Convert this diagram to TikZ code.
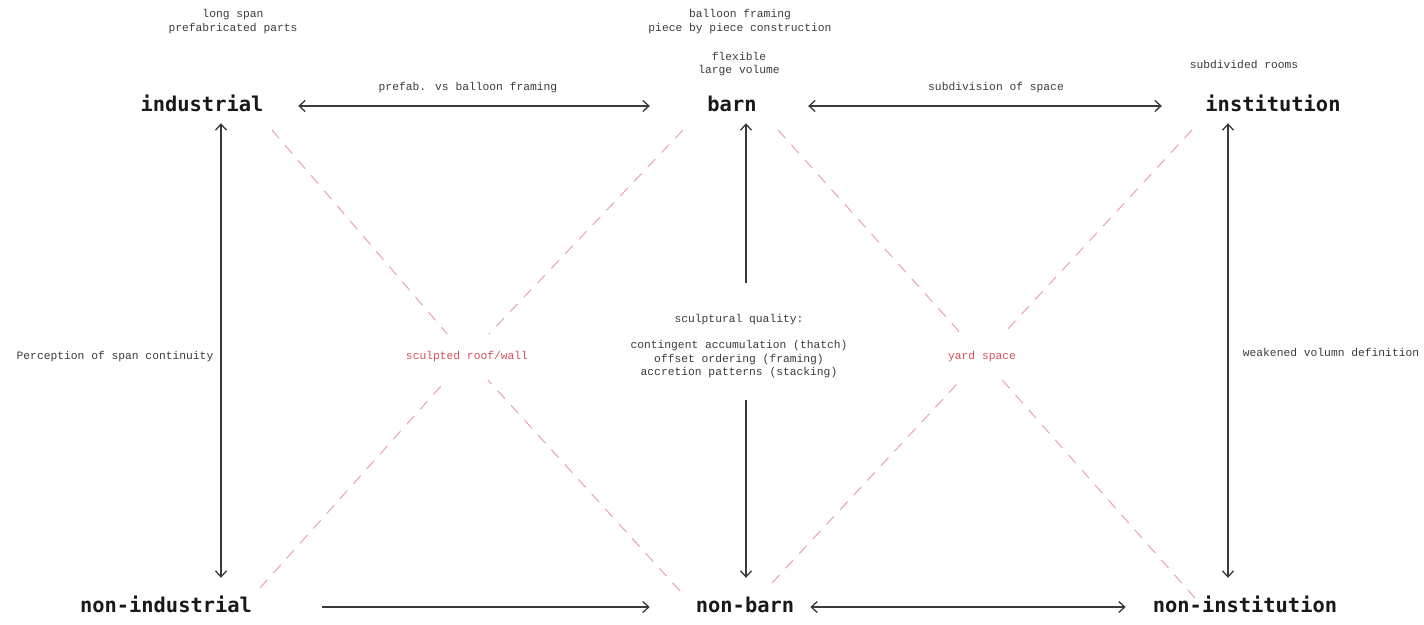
\documentclass[tikz,border=0pt]{standalone}
\usepackage{fontspec}
\setmainfont{Liberation Mono}
\newfontfamily\headfont{DejaVu Sans Mono}
\usetikzlibrary{arrows.meta}
\definecolor{linegray}{HTML}{3A3A3A}
\definecolor{txtgray}{HTML}{3C3C3C}
\definecolor{dashred}{HTML}{EAA3AA}
\definecolor{labred}{HTML}{D4505C}
\tikzset{
  head/.style={font=\headfont\bfseries\fontsize{20.4}{24}\selectfont, text=black!90, inner sep=0pt, text height=15pt, text depth=4pt},
  small/.style={font=\fontsize{11.3}{13.5}\selectfont, text=txtgray, align=center, inner sep=0pt},
  redlab/.style={font=\fontsize{11.3}{13.5}\selectfont, text=labred, inner sep=0pt, minimum height=46pt},
  tip/.style={-{Straight Barb[length=6pt,width=11pt]}, draw=linegray, line width=1.3pt},
  dbl/.style={{Straight Barb[length=6pt,width=11pt]}-{Straight Barb[length=6pt,width=11pt]}, draw=linegray, line width=1.3pt},
  rdash/.style={draw=dashred, line width=1pt, dash pattern=on 11pt off 9pt},
}
\begin{document}
\begin{tikzpicture}[x=1pt,y=-1pt]
\useasboundingbox[fill=white] (0,0) rectangle (1424,624);

% main nodes
\node[head] (industrial) at (202,106) {industrial};
\node[head] (barn) at (732,106) {barn};
\node[head] (institution) at (1273,106) {institution};
\node[head] (nonindustrial) at (166,607) {non-industrial};
\node[head] (nonbarn) at (745,607) {non-barn};
\node[head] (noninstitution) at (1245,607) {non-institution};

% annotations
\node[small] (longspan) at (233,21.5) {long span\\prefabricated parts};
\node[small] (balloon) at (740,21.5) {balloon framing\\piece by piece construction};
\node[small] (flexible) at (739,64) {flexible\\large volume};
\node[small] (subrooms) at (1244,64) {subdivided rooms};
\node[small] (prefab) at (468,88) {prefab. vs balloon framing};
\node[small] (subdiv) at (996,88) {subdivision of space};
\node[small] (perception) at (115,357) {Perception of span continuity};
\node[small] (weakened) at (1331,352) {weakened volumn definition};
\node[small, anchor=north] (quality) at (739,314) {sculptural quality:\\[13pt]contingent accumulation (thatch)\\offset ordering (framing)\\accretion patterns (stacking)};
\node[redlab] (sculpted) at (467,357) {sculpted roof/wall};
\node[redlab] (yard) at (982,357) {yard space};

% free ends of the split central arrow
\coordinate (ctop) at (746,283);
\coordinate (cbot) at (746,400);

% corner ends of the dashed lines
\coordinate (d1) at (272,130);
\coordinate (d2) at (683,130);
\coordinate (d3) at (260,588);
\coordinate (d4) at (680,591);
\coordinate (e1) at (778,130);
\coordinate (e2) at (1192,130);
\coordinate (e3) at (772,583);
\coordinate (e4) at (1195,598);

% dashed red diagonals
\draw[rdash] (d1) -- (sculpted);
\draw[rdash] (d2) -- (sculpted);
\draw[rdash] (d3) -- (sculpted);
\draw[rdash] (d4) -- (sculpted);
\draw[rdash] (e1) -- (yard);
\draw[rdash] (e2) -- (yard);
\draw[rdash] (e3) -- (yard);
\draw[rdash] (e4) -- (yard);

% horizontal arrows
\draw[dbl] ([xshift=34.6pt]industrial.east) -- ([xshift=-57.4pt]barn.west);
\draw[dbl] ([xshift=51.4pt]barn.east) -- ([xshift=-43.4pt]institution.west);
\draw[tip] ([xshift=70pt]nonindustrial.east) -- ([xshift=-46pt]nonbarn.west);
\draw[dbl] ([xshift=16pt]nonbarn.east) -- ([xshift=-27pt]noninstitution.west);

% vertical arrows
\draw[dbl] ([xshift=19pt,yshift=-7.5pt]industrial.south) -- ([xshift=55pt,yshift=19.5pt]nonindustrial.north);
\draw[tip] (ctop) -- ([xshift=14pt,yshift=-7.5pt]barn.south);
\draw[tip] (cbot) -- ([xshift=1pt,yshift=19.5pt]nonbarn.north);
\draw[dbl] ([xshift=-45pt,yshift=-7.5pt]institution.south) -- ([xshift=-17pt,yshift=19.5pt]noninstitution.north);
\end{tikzpicture}
\end{document}
